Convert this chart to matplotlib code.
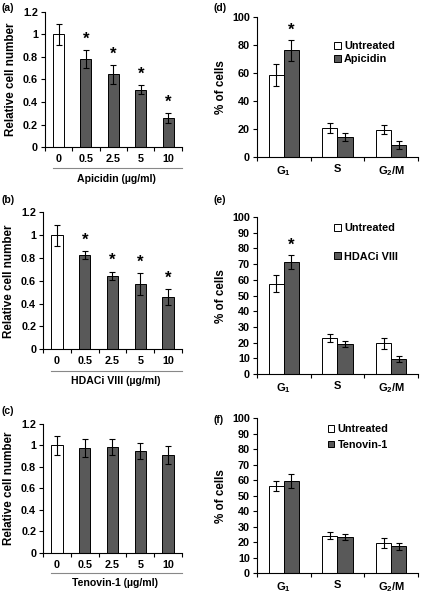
import matplotlib
matplotlib.use('Agg')
import matplotlib.pyplot as plt
from matplotlib.lines import Line2D

plt.rcParams['font.family'] = ['Liberation Sans', 'DejaVu Sans']
plt.rcParams['font.weight'] = 'bold'
plt.rcParams['mathtext.fontset'] = 'custom'
plt.rcParams['mathtext.rm'] = 'Liberation Sans:bold'
plt.rcParams['mathtext.bf'] = 'Liberation Sans:bold'

DARK = '#595959'

# dose response panels (a)-(c)
doses = ['0', '0.5', '2.5', '5', '10']
apicidin_mean = [1.0, 0.78, 0.645, 0.51, 0.255]
apicidin_err = [0.095, 0.08, 0.083, 0.04, 0.044]
hdaci_mean = [1.0, 0.823, 0.645, 0.573, 0.455]
hdaci_err = [0.093, 0.035, 0.035, 0.097, 0.07]
tenovin_mean = [1.0, 0.977, 0.986, 0.949, 0.912]
tenovin_err = [0.09, 0.087, 0.078, 0.077, 0.085]
apicidin_sig = [False, True, True, True, True]
hdaci_sig = [False, True, True, True, True]
tenovin_sig = [False] * 5

# cell cycle panels (d)-(f)
phases = [r'G$_1$', 'S', r'G$_2$/M']
untreated_d = [58.5, 21.1, 19.6]
untreated_d_err = [7.8, 3.6, 3.1]
apicidin_d = [76.3, 14.4, 8.6]
apicidin_d_err = [7.3, 2.9, 2.9]
untreated_e = [57.6, 23.2, 19.6]
untreated_e_err = [5.5, 2.6, 3.5]
hdaci_e = [71.4, 19.3, 9.7]
hdaci_e_err = [4.3, 1.9, 2.0]
untreated_f = [56.4, 24.1, 19.5]
untreated_f_err = [3.3, 2.2, 3.1]
tenovin_f = [59.4, 23.1, 17.3]
tenovin_f_err = [4.4, 2.0, 2.2]
cycle_sig_d = [True, False, False]
cycle_sig_e = [True, False, False]


def style_axes(ax):
    for s in ['top', 'right']:
        ax.spines[s].set_visible(False)
    for s in ['left', 'bottom']:
        ax.spines[s].set_linewidth(0.8)
    ax.tick_params(axis='y', direction='out', length=3, width=0.8, labelsize=7.8, pad=2)
    ax.tick_params(axis='x', which='major', length=0, labelsize=7.8, pad=5)
    ax.tick_params(axis='x', which='minor', direction='out', length=3, width=0.8)


def dose_panel(rect, mean, err, sig, xlabel):
    ax = fig.add_axes(rect)
    x = list(range(len(doses)))
    colors = ['white'] + [DARK] * (len(doses) - 1)
    ax.bar(x, mean, width=0.4, color=colors, edgecolor='black', linewidth=0.7,
           yerr=err, error_kw=dict(ecolor='black', elinewidth=0.8, capsize=2, capthick=0.8))
    for xi, m, e, s in zip(x, mean, err, sig):
        if s:
            ax.text(xi, m + e + 0.03, '*', ha='center', va='bottom', fontsize=12, fontweight='bold')
    ax.set_xlim(-0.5, len(doses) - 0.5)
    ax.set_ylim(0, 1.2)
    ax.set_yticks([0, 0.2, 0.4, 0.6, 0.8, 1.0, 1.2])
    ax.set_yticklabels(['0', '0.2', '0.4', '0.6', '0.8', '1', '1.2'])
    ax.set_xticks(x)
    ax.set_xticklabels(doses)
    ax.set_xticks([i - 0.5 for i in range(len(doses) + 1)], minor=True)
    style_axes(ax)
    ax.set_ylabel('Relative cell number', fontsize=8.4, fontweight='bold', labelpad=4)
    ax.add_line(Line2D([0.06, 1.0], [-0.155, -0.155], transform=ax.transAxes,
                       color='#888888', linewidth=0.8, clip_on=False))
    ax.text(0.52, -0.235, xlabel, transform=ax.transAxes, ha='center', va='center',
            fontsize=7.6, fontweight='bold')
    return ax


def cycle_panel(rect, unt, unt_err, trt, trt_err, sig, trt_name, yticks, leg_pos, leg_space):
    ax = fig.add_axes(rect)
    x = list(range(len(phases)))
    w = 0.28
    ekw = dict(ecolor='black', elinewidth=0.8, capsize=2, capthick=0.8)
    b1 = ax.bar([i - w / 2 for i in x], unt, width=w, color='white', edgecolor='black',
                linewidth=0.7, yerr=unt_err, error_kw=ekw, label='Untreated')
    b2 = ax.bar([i + w / 2 for i in x], trt, width=w, color=DARK, edgecolor='black',
                linewidth=0.7, yerr=trt_err, error_kw=ekw, label=trt_name)
    for xi, m, e, s in zip(x, trt, trt_err, sig):
        if s:
            ax.text(xi + w / 2, m + e + 1.5, '*', ha='center', va='bottom', fontsize=12, fontweight='bold')
    ax.set_xlim(-0.5, len(phases) - 0.5)
    ax.set_ylim(0, 100)
    ax.set_yticks(yticks)
    ax.set_xticks(x)
    ax.set_xticklabels(phases)
    ax.set_xticks([i - 0.5 for i in range(len(phases) + 1)], minor=True)
    style_axes(ax)
    ax.tick_params(axis='x', which='major', labelsize=8)
    ax.set_ylabel('% of cells', fontsize=8.4, fontweight='bold', labelpad=4)
    ax.legend(handles=[b1, b2], loc='upper left', bbox_to_anchor=leg_pos, frameon=False,
              fontsize=7.8, handlelength=0.6, handleheight=0.6, handletextpad=0.3,
              labelspacing=leg_space, borderpad=0, borderaxespad=0)
    return ax


fig = plt.figure(figsize=(4.31, 5.93), dpi=100)

dose_panel([0.104, 0.752, 0.318, 0.228], apicidin_mean, apicidin_err, apicidin_sig,
           'Apicidin (µg/ml)')
dose_panel([0.100, 0.411, 0.322, 0.231], hdaci_mean, hdaci_err, hdaci_sig,
           'HDACi VIII (µg/ml)')
dose_panel([0.100, 0.0675, 0.322, 0.2175], tenovin_mean, tenovin_err, tenovin_sig,
           'Tenovin-1 (µg/ml)')

cycle_panel([0.596, 0.735, 0.374, 0.236], untreated_d, untreated_d_err, apicidin_d,
            apicidin_d_err, cycle_sig_d, 'Apicidin', [0, 20, 40, 60, 80, 100],
            (0.48, 0.83), 0.3)
cycle_panel([0.596, 0.369, 0.374, 0.265], untreated_e, untreated_e_err, hdaci_e,
            hdaci_e_err, cycle_sig_e, 'HDACi VIII', list(range(0, 101, 10)),
            (0.48, 0.96), 1.7)
cycle_panel([0.596, 0.0337, 0.374, 0.261], untreated_f, untreated_f_err, tenovin_f,
            tenovin_f_err, [False] * 3, 'Tenovin-1', list(range(0, 101, 10)),
            (0.44, 0.96), 0.5)

# panel tags
tag_style = dict(ha='left', va='center', fontsize=7.5, fontweight='bold')
fig.text(2 / 431, 1 - 8 / 593, '(a)', **tag_style)
fig.text(2 / 431, 1 - 200 / 593, '(b)', **tag_style)
fig.text(2 / 431, 1 - 411 / 593, '(c)', **tag_style)
fig.text(214 / 431, 1 - 8 / 593, '(d)', **tag_style)
fig.text(214 / 431, 1 - 200 / 593, '(e)', **tag_style)
fig.text(214 / 431, 1 - 420 / 593, '(f)', **tag_style)

fig.savefig('out.png', dpi=100)
